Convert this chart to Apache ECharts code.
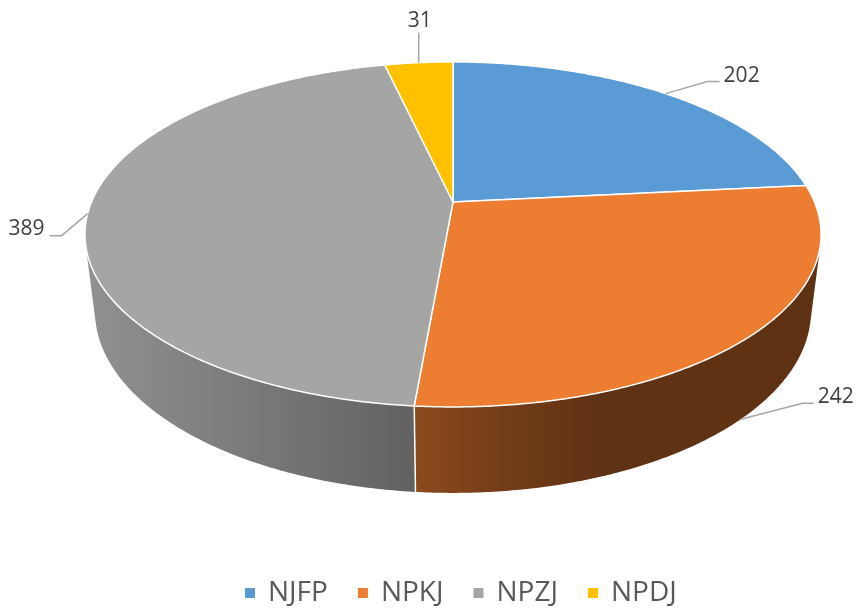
<!DOCTYPE html>
<html>
<head>
<meta charset="utf-8">
<script src="https://cdn.jsdelivr.net/npm/echarts@6/dist/echarts.min.js"></script>
<style>
html,body{margin:0;padding:0;background:#fff;}
#chart{width:857px;height:608px;}
</style>
</head>
<body>
<div id="chart"></div>
<script>
// ---- data ----
const categories = ['NJFP', 'NPKJ', 'NPZJ', 'NPDJ'];
const values = [202, 242, 389, 31];
const colors = ['#5B9BD5', '#ED7D31', '#A5A5A5', '#FFC000'];

// ---- layout of the 3D pie (projection parameters) ----
const GEO = { cx: 453, cy: 202, a: 361.5, b: 166.4, k: 0.188, m: 0.0271, d: 77.7 };
// leader-line layout per label (offsets of elbow from anchor, horizontal tail)
const labelLayout = [
  { anchor: 'top', dx: 42, dy: -12, tail: 12, dir: 'right' },
  { anchor: 'bottom', dx: 62, dy: -16, tail: 11, dir: 'right' },
  { anchor: 'top', dx: -26, dy: 22, tail: -12, dir: 'left' },
  { anchor: 'top', dx: 0, dy: -30, tail: 0, dir: 'up' }
];
// side lighting: brightness factor along x
const shadeStops = [[85, 0.88], [230, 0.76], [415, 0.59], [500, 0.49], [600, 0.40], [825, 0.40]];

const total = values.reduce((s, v) => s + v, 0);
const DEG = Math.PI / 180;

function proj(theta, bottom) {
  const X = Math.sin(theta), Z = Math.cos(theta);
  const W = 1 + GEO.k * Z + (bottom ? GEO.m : 0);
  return [GEO.cx + GEO.a * X / W, GEO.cy + ((bottom ? GEO.d : 0) - GEO.b * Z) / W];
}
function arc(t1, t2, bottom) {
  const pts = [];
  const n = Math.max(2, Math.ceil((t2 - t1) / (0.5 * DEG)));
  for (let i = 0; i <= n; i++) pts.push(proj(t1 + (t2 - t1) * i / n, bottom));
  return pts;
}
// silhouette generator angle of the side wall (where it turns away)
function silhouette() {
  function cross(t) {
    const a = proj(t, false), b = proj(t + 1e-4, false), c = proj(t, true);
    const ux = b[0] - a[0], uy = b[1] - a[1], vx = c[0] - a[0], vy = c[1] - a[1];
    return ux * vy - uy * vx;
  }
  let lo = 80 * DEG, hi = 130 * DEG;
  const slo = Math.sign(cross(lo));
  for (let i = 0; i < 60; i++) {
    const mid = (lo + hi) / 2;
    if (Math.sign(cross(mid)) === slo) lo = mid; else hi = mid;
  }
  return (lo + hi) / 2;
}
const SIL = silhouette();

function hexToRgb(h) {
  const n = parseInt(h.slice(1), 16);
  return [(n >> 16) & 255, (n >> 8) & 255, n & 255];
}
function sideGradient(color) {
  const [r, g, b] = hexToRgb(color);
  const x0 = shadeStops[0][0], x1 = shadeStops[shadeStops.length - 1][0];
  const stops = shadeStops.map(([x, f]) => ({
    offset: (x - x0) / (x1 - x0),
    color: 'rgb(' + Math.round(r * f) + ',' + Math.round(g * f) + ',' + Math.round(b * f) + ')'
  }));
  return new echarts.graphic.LinearGradient(x0, 0, x1, 0, stops, true);
}

function makeRender(idx) {
  return function (params, api) {
    const v = api.value(0);
    let before = 0;
    for (let i = 0; i < idx; i++) before += values[i];
    const t1 = before / total * 2 * Math.PI;
    const t2 = (before + v) / total * 2 * Math.PI;
    const children = [];
    // top face
    const topPts = [[GEO.cx, GEO.cy]].concat(arc(t1, t2, false));
    children.push({
      type: 'polygon', z2: 10,
      shape: { points: topPts },
      style: { fill: colors[idx], stroke: '#ffffff', lineWidth: 1.5, lineJoin: 'round' }
    });
    // side face (front-facing part only)
    const s1 = Math.max(t1, SIL), s2 = Math.min(t2, 2 * Math.PI - SIL);
    if (s2 > s1) {
      const pts = arc(s1, s2, false).concat(arc(s1, s2, true).reverse());
      children.push({
        type: 'polygon', z2: 1,
        shape: { points: pts },
        style: { fill: sideGradient(colors[idx]) }
      });
    }
    // visible vertical edge at slice start
    if (t1 > SIL && t1 < 2 * Math.PI - SIL) {
      const a = proj(t1, false), b = proj(t1, true);
      children.push({
        type: 'line', z2: 5,
        shape: { x1: a[0], y1: a[1], x2: b[0], y2: b[1] },
        style: { stroke: '#ffffff', lineWidth: 1.5 }
      });
    }
    // label + leader line
    const L = labelLayout[idx];
    const mid = (t1 + t2) / 2;
    const p0 = proj(mid, L.anchor === 'bottom');
    const p1 = [p0[0] + L.dx, p0[1] + L.dy];
    const p2 = [p1[0] + L.tail, p1[1]];
    children.push({
      type: 'polyline', z2: 20,
      shape: { points: [p0, p1, p2] },
      style: { stroke: '#a6a6a6', lineWidth: 1.5, fill: null }
    });
    let tx, ty, align;
    if (L.dir === 'right') { tx = p2[0] + 4; ty = p2[1] - 6; align = 'left'; }
    else if (L.dir === 'left') { tx = p2[0] - 5; ty = p2[1] - 7; align = 'right'; }
    else { tx = p2[0] + 1; ty = p2[1] - 12; align = 'center'; }
    children.push({
      type: 'text', z2: 20,
      style: {
        text: String(v), x: tx, y: ty, align: align, verticalAlign: 'middle',
        fill: '#404040', font: '21px "Open Sans"'
      }
    });
    return { type: 'group', children: children };
  };
}

const chart = echarts.init(document.getElementById('chart'), null, { renderer: 'canvas' });
chart.setOption({
  animation: false,
  backgroundColor: '#ffffff',
  legend: {
    data: categories,
    top: 574,
    left: 240,
    icon: 'rect',
    itemWidth: 10,
    itemHeight: 10,
    itemGap: 30,
    textStyle: { fontSize: 28, color: '#595959', fontFamily: 'Open Sans', padding: [0, 0, 0, 8] },
    selectedMode: false
  },
  series: categories.map((name, i) => ({
    type: 'custom',
    name: name,
    coordinateSystem: 'none',
    silent: true,
    itemStyle: { color: colors[i] },
    data: [[values[i]]],
    renderItem: makeRender(i)
  }))
});
</script>
</body>
</html>
